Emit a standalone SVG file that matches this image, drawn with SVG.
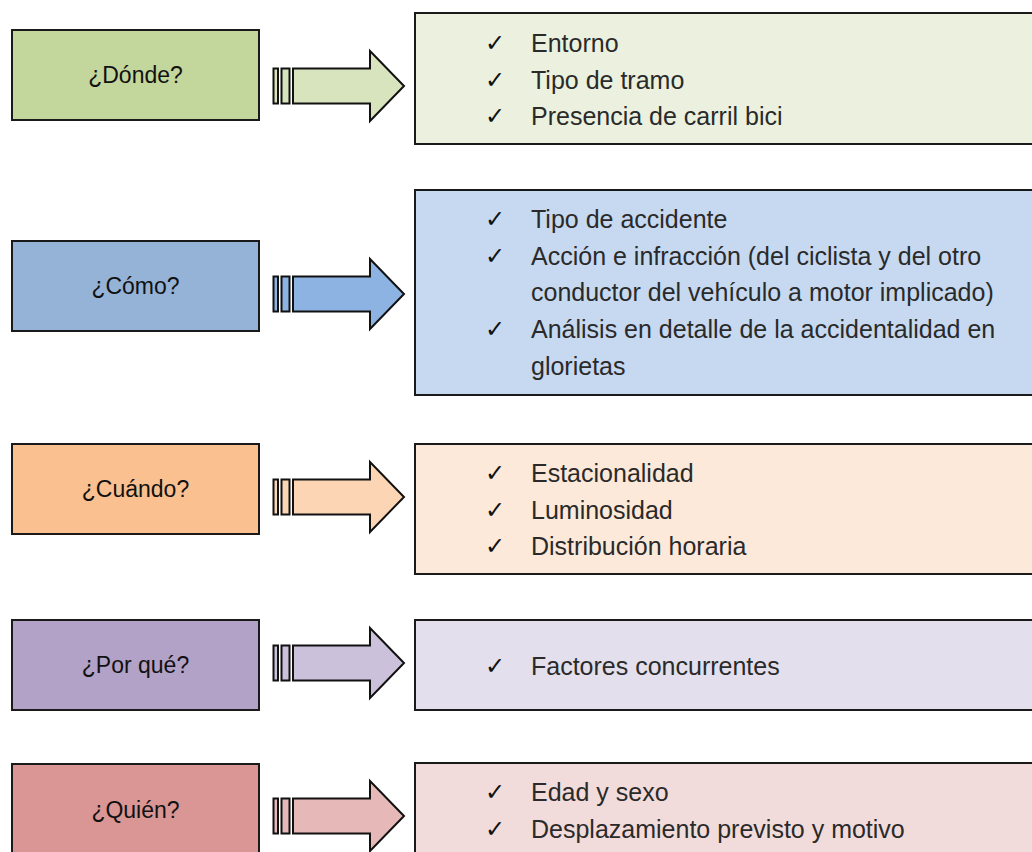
<svg xmlns="http://www.w3.org/2000/svg" width="1032" height="852" viewBox="0 0 1032 852">
<style>
.box{stroke:#1a1a1a;stroke-width:2}
.lbl{font-family:"Liberation Sans",Arial,sans-serif;font-size:23px;fill:#111;text-anchor:middle}
.item{font-family:"Liberation Sans",Arial,sans-serif;font-size:25px;fill:#2a2a2a}
.chk{font-family:"DejaVu Sans",sans-serif;font-size:24px;fill:#111}
.arr{stroke:#111;stroke-width:2;stroke-linejoin:miter}
</style>
<defs>
<g id="arrow" class="arr">
<rect x="273.5" y="-17.5" width="4.5" height="35"/>
<rect x="281.5" y="-17.5" width="8" height="35"/>
<path d="M293,-17.5 H370 V-35 L404,0 L370,35 V17.5 H293 Z"/>
</g>
</defs>
<rect width="1032" height="852" fill="#fff"/>
<g id="connectors">
<use href="#arrow" transform="translate(0,86)" fill="#d7e4bd"/>
<use href="#arrow" transform="translate(0,294)" fill="#8db3e2"/>
<use href="#arrow" transform="translate(0,497)" fill="#fcd5b5"/>
<use href="#arrow" transform="translate(0,663)" fill="#ccc1da"/>
<use href="#arrow" transform="translate(0,816)" fill="#e6b9b8"/>
</g>
<g id="donde">
<rect class="box" x="12" y="30" width="247" height="90" fill="#c3d69b"/>
<text class="lbl" x="135.5" y="83">¿Dónde?</text>
</g>
<g id="donde-items">
<rect class="box" x="415" y="13" width="630" height="131" fill="#ebf1de"/>
<text class="chk" x="485" y="51">✓</text><text class="item" x="531" y="52">Entorno</text>
<text class="chk" x="485" y="88">✓</text><text class="item" x="531" y="89">Tipo de tramo</text>
<text class="chk" x="485" y="124">✓</text><text class="item" x="531" y="125">Presencia de carril bici</text>
</g>
<g id="como">
<rect class="box" x="12" y="241" width="247" height="90" fill="#95b3d7"/>
<text class="lbl" x="135.5" y="294">¿Cómo?</text>
</g>
<g id="como-items">
<rect class="box" x="415" y="190" width="630" height="205" fill="#c6d9f1"/>
<text class="chk" x="485" y="227">✓</text><text class="item" x="531" y="228">Tipo de accidente</text>
<text class="chk" x="485" y="264">✓</text><text class="item" x="531" y="265">Acción e infracción (del ciclista y del otro</text>
<text class="item" x="531" y="301">conductor del vehículo a motor implicado)</text>
<text class="chk" x="485" y="337">✓</text><text class="item" x="531" y="338">Análisis en detalle de la accidentalidad en</text>
<text class="item" x="531" y="375">glorietas</text>
</g>
<g id="cuando">
<rect class="box" x="12" y="444" width="247" height="90" fill="#fac090"/>
<text class="lbl" x="135.5" y="497">¿Cuándo?</text>
</g>
<g id="cuando-items">
<rect class="box" x="415" y="444" width="630" height="130" fill="#fde9d9"/>
<text class="chk" x="485" y="481">✓</text><text class="item" x="531" y="482">Estacionalidad</text>
<text class="chk" x="485" y="518">✓</text><text class="item" x="531" y="519">Luminosidad</text>
<text class="chk" x="485" y="554">✓</text><text class="item" x="531" y="555">Distribución horaria</text>
</g>
<g id="porque">
<rect class="box" x="12" y="620" width="247" height="90" fill="#b3a2c7"/>
<text class="lbl" x="135.5" y="673">¿Por qué?</text>
</g>
<g id="porque-items">
<rect class="box" x="415" y="620" width="630" height="90" fill="#e4dfec"/>
<text class="chk" x="485" y="674">✓</text><text class="item" x="531" y="675">Factores concurrentes</text>
</g>
<g id="quien">
<rect class="box" x="12" y="764" width="247" height="92" fill="#d99694"/>
<text class="lbl" x="135.5" y="818">¿Quién?</text>
</g>
<g id="quien-items">
<rect class="box" x="415" y="763" width="630" height="100" fill="#f2dcdb"/>
<text class="chk" x="485" y="800">✓</text><text class="item" x="531" y="801">Edad y sexo</text>
<text class="chk" x="485" y="837">✓</text><text class="item" x="531" y="838">Desplazamiento previsto y motivo</text>
</g>
</svg>
